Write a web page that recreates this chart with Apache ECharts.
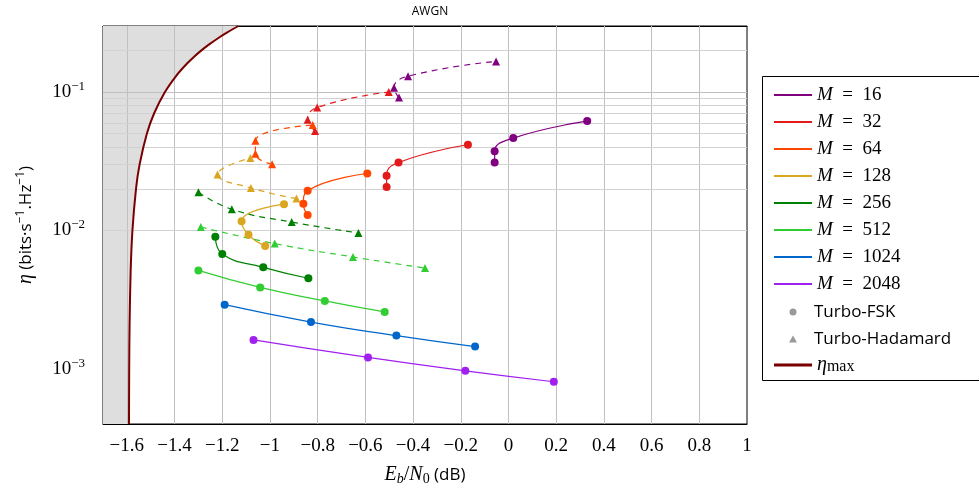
<!DOCTYPE html>
<html><head><meta charset="utf-8">
<script src="https://cdn.jsdelivr.net/npm/echarts@6/dist/echarts.min.js"></script>
<style>html,body{margin:0;padding:0;background:#fff}#c{width:979px;height:491px}</style>
</head><body><div id="c"></div>
<script>
// ---------------- data ----------------
const X_MIN = -1.7, X_MAX = 1.0;
const Y_MIN = 4e-4, Y_MAX = 0.3;
const X_TICKS = [-1.6, -1.4, -1.2, -1, -0.8, -0.6, -0.4, -0.2, 0, 0.2, 0.4, 0.6, 0.8, 1];
const Y_MAJOR = [1e-3, 1e-2, 1e-1];
const Y_MINOR = [5e-4, 6e-4, 7e-4, 8e-4, 9e-4,
  2e-3, 3e-3, 4e-3, 5e-3, 6e-3, 7e-3, 8e-3, 9e-3,
  2e-2, 3e-2, 4e-2, 5e-2, 6e-2, 7e-2, 8e-2, 9e-2, 2e-1];

const M_VALUES = ['16', '32', '64', '128', '256', '512', '1024', '2048'];

// Turbo-FSK  [Eb/N0 (dB), eta]
const FSK_16   = [[-0.058, 0.0310], [-0.058, 0.0373], [0.020, 0.0465], [0.330, 0.0617]];
const FSK_32   = [[-0.511, 0.0206], [-0.511, 0.0249], [-0.461, 0.0310], [-0.170, 0.0416]];
const FSK_64   = [[-0.842, 0.01295], [-0.860, 0.0156], [-0.842, 0.0194], [-0.592, 0.0258]];
const FSK_128  = [[-1.020, 0.00774], [-1.090, 0.00932], [-1.119, 0.01167], [-0.941, 0.0155]];
const FSK_256  = [[-1.229, 0.00902], [-1.200, 0.00676], [-1.028, 0.00542], [-0.839, 0.00452]];
const FSK_512  = [[-1.300, 0.00515], [-1.041, 0.00388], [-0.770, 0.00310], [-0.519, 0.00258]];
const FSK_1024 = [[-1.190, 0.00291], [-0.828, 0.00218], [-0.470, 0.00174], [-0.140, 0.00145]];
const FSK_2048 = [[-1.069, 0.00162], [-0.589, 0.00121], [-0.181, 0.000968], [0.190, 0.000808]];

// Turbo-Hadamard [Eb/N0 (dB), eta]
const HAD_16  = [[-0.459, 0.0912], [-0.480, 0.1075], [-0.421, 0.1301], [-0.052, 0.1665]];
const HAD_32  = [[-0.811, 0.0524], [-0.842, 0.0631], [-0.802, 0.0774], [-0.502, 0.1000]];
const HAD_64  = [[-0.991, 0.0301], [-1.061, 0.0359], [-1.061, 0.0445], [-0.821, 0.0578]];
const HAD_128 = [[-0.889, 0.0170], [-1.080, 0.0203], [-1.220, 0.0254], [-1.082, 0.0334]];
const HAD_256 = [[-1.300, 0.0189], [-1.160, 0.01424], [-0.909, 0.0115], [-0.629, 0.0096]];
const HAD_512 = [[-1.290, 0.01059], [-0.980, 0.00804], [-0.652, 0.00644], [-0.350, 0.00535]];

// eta_max curve
const ETAMAX_EBN0 = [-1.5911, -1.5902, -1.5887, -1.5842, -1.5766, -1.5616, -1.5465, -1.5162, -1.4859,
  -1.4403, -1.3946, -1.3487, -1.3180, -1.2873, -1.2563, -1.2101, -1.1790, -1.1324];
const ETAMAX_ETA = [4e-4, 1e-3, 2e-3, 5e-3, 0.01, 0.02, 0.03, 0.05, 0.07,
  0.1, 0.13, 0.16, 0.18, 0.2, 0.22, 0.25, 0.27, 0.3];

// ---------------- styles ----------------
const COLORS = ['#800080', '#e31a1c', '#ff4500', '#daa520', '#008000', '#32cd32', '#0066cc', '#a020f0'];
const FSK_SETS = [FSK_16, FSK_32, FSK_64, FSK_128, FSK_256, FSK_512, FSK_1024, FSK_2048];
const HAD_SETS = [HAD_16, HAD_32, HAD_64, HAD_128, HAD_256, HAD_512, null, null];
const SERIF = "'Liberation Serif', 'DejaVu Serif', serif";
const SANS = "'Open Sans', 'Noto Sans', sans-serif";

const curve = ETAMAX_EBN0.map((x, i) => [x, ETAMAX_ETA[i]]);

const series = [];
series.push({
  name: 'shade', type: 'line', data: [[X_MIN, Y_MIN]].concat(curve),
  showSymbol: false, symbol: 'none', smooth: 0.3, z: 1,
  lineStyle: { width: 0, opacity: 0 },
  areaStyle: { color: '#dedede', origin: 'end', opacity: 1 },
  silent: true
});
const gridLines = [];
X_TICKS.forEach(v => { if (v > X_MIN && v < X_MAX) gridLines.push({ xAxis: v }); });
Y_MAJOR.forEach(v => gridLines.push({ yAxis: v }));
Y_MINOR.forEach(v => gridLines.push({ yAxis: v, lineStyle: { color: '#d2d2d2', width: 1, type: 'solid' } }));
series.push({
  name: 'grid', type: 'line', data: [], z: 2, silent: true,
  markLine: {
    silent: true, symbol: ['none', 'none'], label: { show: false }, animation: false,
    lineStyle: { color: '#c0c0c0', width: 1, type: 'solid' },
    emphasis: { disabled: true },
    data: gridLines
  }
});
M_VALUES.forEach((m, i) => {
  const name = 'M = ' + m;
  series.push({
    name, type: 'line', data: FSK_SETS[i], symbol: 'circle', symbolSize: 8, smooth: 0.5, z: 5,
    lineStyle: { color: COLORS[i], width: 1.2 }, itemStyle: { color: COLORS[i] }
  });
  if (HAD_SETS[i]) {
    series.push({
      name, type: 'line', data: HAD_SETS[i], symbol: 'triangle', symbolSize: 8, smooth: 0.5, z: 5,
      lineStyle: { color: COLORS[i], width: 1.2, type: [6, 5] }, itemStyle: { color: COLORS[i] }
    });
  }
});
series.push({ name: 'Turbo-FSK', type: 'line', data: [], itemStyle: { color: '#999999' } });
series.push({ name: 'Turbo-Hadamard', type: 'line', data: [], itemStyle: { color: '#999999' } });
series.push({
  name: 'etamax', type: 'line', data: curve, symbol: 'none', smooth: 0.3, z: 6,
  lineStyle: { color: '#7a0000', width: 2 }, itemStyle: { color: '#7a0000' }
});

const chart = echarts.init(document.getElementById('c'), null, { renderer: 'canvas' });
chart.setOption({
  animation: false,
  backgroundColor: '#ffffff',
  title: {
    text: 'AWGN', left: 425, top: 1, textAlign: 'center',
    textStyle: { fontFamily: SANS, fontSize: 12, fontWeight: 'normal', color: '#000' }
  },
  grid: { left: 103, right: 232, top: 26, bottom: 62, show: true, borderColor: '#000', borderWidth: 1, containLabel: false },
  xAxis: [{
    type: 'value', min: X_MIN, max: X_MAX, interval: 0.1,
    axisLine: { show: true, lineStyle: { color: '#000', width: 1 } },
    axisTick: { show: false }, splitLine: { show: false },
    axisLabel: {
      margin: 13, color: '#000', fontFamily: SERIF, fontSize: 19,
      formatter: v => {
        const k = Math.round(v * 10) / 10;
        if (X_TICKS.indexOf(k) < 0) return '';
        return String(k).replace('-', '\u2212');
      }
    },
    name: '{i|E}{sb|b}{n|/}{i|N}{s0|0}{u| (dB)}', nameLocation: 'middle', nameGap: 40,
    nameTextStyle: {
      color: '#000',
      rich: {
        i: { fontFamily: SERIF, fontStyle: 'italic', fontSize: 20, color: '#000' },
        sb: { fontFamily: SERIF, fontStyle: 'italic', fontSize: 14, color: '#000', verticalAlign: 'bottom', padding: [8, 0, 0, 0] },
        s0: { fontFamily: SERIF, fontSize: 14, color: '#000', verticalAlign: 'bottom', padding: [8, 0, 0, 0] },
        n: { fontFamily: SERIF, fontSize: 20, color: '#000' },
        u: { fontFamily: SANS, fontSize: 17, color: '#000' }
      }
    }
  }, {
    type: 'value', min: X_MIN, max: X_MAX, position: 'top',
    axisLine: { show: true, lineStyle: { color: '#000', width: 1 } },
    axisTick: { show: false }, splitLine: { show: false }, axisLabel: { show: false }
  }],
  yAxis: [{
    type: 'log', logBase: 10, min: Y_MIN, max: Y_MAX,
    axisLine: { show: true, lineStyle: { color: '#000', width: 1 } },
    axisTick: { show: false }, splitLine: { show: false }, minorSplitLine: { show: false },
    axisLabel: {
      margin: 18, color: '#000',
      formatter: v => {
        const e = Math.log10(v), r = Math.round(e);
        if (Math.abs(e - r) > 1e-6) return '';
        return '{b|10}{s|\u2212' + (-r) + '}';
      },
      rich: {
        b: { fontFamily: SERIF, fontSize: 19, color: '#000', lineHeight: 24 },
        s: { fontFamily: SERIF, fontSize: 13, color: '#000', verticalAlign: 'top', padding: [0, 0, 10, 0] }
      }
    },
    name: '{e|\u03b7}{t| (bits\u00b7s}{s|\u22121}{t|.Hz}{s|\u22121}{t|)}',
    nameLocation: 'middle', nameGap: 66, nameRotate: 90,
    nameTextStyle: {
      color: '#000',
      rich: {
        e: { fontFamily: SERIF, fontStyle: 'italic', fontSize: 20, color: '#000' },
        t: { fontFamily: SANS, fontSize: 17, color: '#000' },
        s: { fontFamily: SANS, fontSize: 12, color: '#000', verticalAlign: 'top', padding: [0, 0, 10, 0] }
      }
    }
  }, {
    type: 'log', logBase: 10, min: Y_MIN, max: Y_MAX, position: 'right',
    axisLine: { show: true, lineStyle: { color: '#000', width: 1 } },
    axisTick: { show: false }, splitLine: { show: false }, axisLabel: { show: false }
  }],
  legend: [{
    orient: 'vertical', left: 769, top: 80, itemWidth: 38, itemHeight: 2, itemGap: 7,
    selectedMode: false, icon: 'rect',
    data: M_VALUES.map((m, i) => ({ name: 'M = ' + m, icon: 'rect', itemStyle: { color: COLORS[i] } })),
    formatter: name => '{m|M}{t|\u2002=\u2002' + name.split(' = ')[1] + '}',
    textStyle: {
      lineHeight: 20,
      rich: {
        m: { fontFamily: SERIF, fontStyle: 'italic', fontSize: 19, color: '#000', lineHeight: 20 },
        t: { fontFamily: SERIF, fontSize: 19, color: '#000', lineHeight: 20 }
      }
    }
  }, {
    orient: 'vertical', left: 784, top: 297, itemWidth: 8, itemHeight: 7, itemGap: 7,
    selectedMode: false,
    data: [{ name: 'Turbo-FSK', icon: 'circle', itemStyle: { color: '#999999' } },
           { name: 'Turbo-Hadamard', icon: 'triangle', itemStyle: { color: '#999999' } }],
    textStyle: { fontFamily: SANS, fontSize: 17, color: '#000', lineHeight: 20, padding: [0, 0, 0, 12] }
  }, {
    orient: 'vertical', left: 769, top: 350, itemWidth: 38, itemHeight: 3,
    selectedMode: false,
    data: [{ name: 'etamax', icon: 'rect', itemStyle: { color: '#7a0000' } }],
    formatter: () => '{e|\u03b7}{m|max}',
    textStyle: {
      lineHeight: 20,
      rich: {
        e: { fontFamily: SERIF, fontStyle: 'italic', fontSize: 20, color: '#000' },
        m: { fontFamily: SERIF, fontSize: 16, color: '#000', verticalAlign: 'bottom', padding: [4, 0, 0, 0] }
      }
    }
  }],
  graphic: [{
    type: 'rect', left: 760, top: 74, z: 100,
    shape: { width: 217, height: 304 },
    style: { fill: 'none', stroke: '#000', lineWidth: 1 }
  }],
  series
});
</script></body></html>
